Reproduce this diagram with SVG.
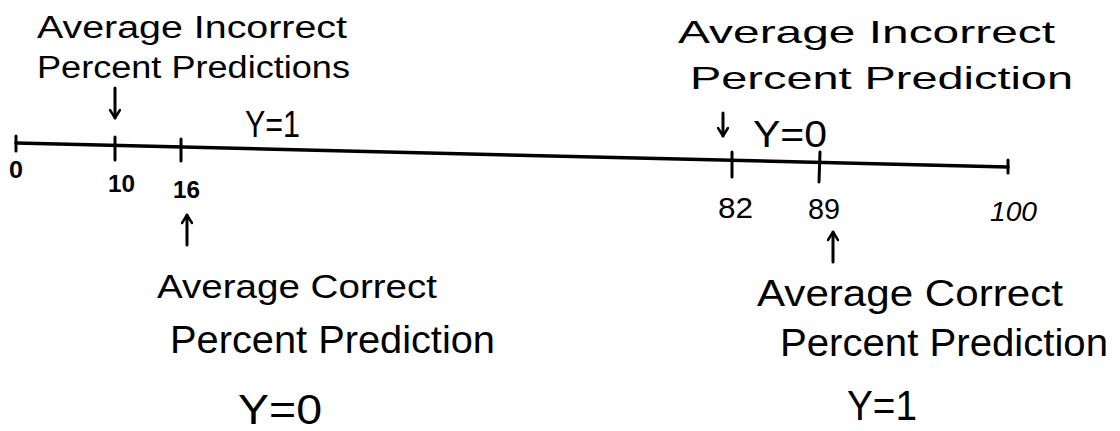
<svg xmlns="http://www.w3.org/2000/svg" width="1120" height="431" viewBox="0 0 1120 431">
<style>
  text { font-family: "Liberation Sans", "DejaVu Sans", sans-serif; fill: #000; }
  .lbl { font-size: 31px; }
  .big { font-size: 42px; }
  .mid { font-size: 36px; }
  .num { font-size: 24px; }
  .bold { font-weight: bold; }
  .axis { stroke: #000; stroke-width: 3.5; fill: none; stroke-linecap: round; }
  .tick { stroke: #000; stroke-width: 3; fill: none; stroke-linecap: round; }
  .arr { stroke: #000; stroke-width: 3; fill: none; stroke-linecap: round; stroke-linejoin: round; }
</style>
<defs>
  <marker id="head" viewBox="0 0 12 12" refX="10" refY="6" markerWidth="12" markerHeight="12" markerUnits="userSpaceOnUse" orient="auto">
    <polyline points="2,1 10,6 2,11" fill="none" stroke="#000" stroke-width="2.5" stroke-linecap="round" stroke-linejoin="round"/>
  </marker>
</defs>
<rect width="1120" height="431" fill="#fff"/>

<g id="axis">
  <line class="axis" x1="16" y1="143" x2="1008" y2="167"/>
  <line class="tick" x1="16" y1="136" x2="16" y2="151"/>
  <line class="tick" x1="115" y1="137" x2="115" y2="160"/>
  <line class="tick" x1="181" y1="139" x2="181" y2="161"/>
  <line class="tick" x1="732" y1="152" x2="732" y2="177"/>
  <line class="tick" x1="820" y1="152" x2="819" y2="182"/>
  <line class="tick" x1="1008" y1="160" x2="1008" y2="173"/>
</g>

<g id="tick-labels">
  <text class="num bold" x="9" y="178" textLength="14" lengthAdjust="spacingAndGlyphs">0</text>
  <text class="num bold" x="108" y="192" textLength="27" lengthAdjust="spacingAndGlyphs">10</text>
  <text class="num bold" x="173" y="198" textLength="27" lengthAdjust="spacingAndGlyphs">16</text>
  <text class="num" x="718" y="218" style="font-size:29px" textLength="35" lengthAdjust="spacingAndGlyphs">82</text>
  <text class="num" x="808" y="219" style="font-size:29px" textLength="32" lengthAdjust="spacingAndGlyphs">89</text>
  <text class="num" x="990" y="221" style="font-size:27px;font-style:italic" textLength="47" lengthAdjust="spacingAndGlyphs">100</text>
</g>

<g id="connectors">
  <line class="arr" x1="115" y1="88" x2="115" y2="118" marker-end="url(#head)"/>
  <line class="arr" x1="723" y1="113" x2="723" y2="136" marker-end="url(#head)"/>
  <line class="arr" x1="187" y1="245" x2="187" y2="215" marker-end="url(#head)"/>
  <line class="arr" x1="833" y1="262" x2="833" y2="232" marker-end="url(#head)"/>
</g>

<g id="incorrect-y1">
  <text class="lbl" x="37" y="38" textLength="310" lengthAdjust="spacingAndGlyphs">Average Incorrect</text>
  <text class="lbl" x="37" y="78" textLength="313" lengthAdjust="spacingAndGlyphs">Percent Predictions</text>
</g>

<g id="label-y1-top">
  <text class="mid" x="245" y="137" textLength="55" lengthAdjust="spacingAndGlyphs">Y=1</text>
</g>

<g id="incorrect-y0">
  <text class="lbl" x="678" y="43" style="font-size:32px" textLength="377" lengthAdjust="spacingAndGlyphs">Average Incorrect</text>
  <text class="lbl" x="690" y="89" style="font-size:32px" textLength="383" lengthAdjust="spacingAndGlyphs">Percent Prediction</text>
</g>

<g id="label-y0-top">
  <text class="mid" x="753" y="147" textLength="74" lengthAdjust="spacingAndGlyphs">Y=0</text>
</g>

<g id="correct-y0">
  <text class="lbl" x="157" y="298" style="font-size:33px" textLength="280" lengthAdjust="spacingAndGlyphs">Average Correct</text>
  <text class="lbl" x="170" y="353" style="font-size:38px" textLength="325" lengthAdjust="spacingAndGlyphs">Percent Prediction</text>
  <text class="big" x="238" y="424" textLength="84" lengthAdjust="spacingAndGlyphs">Y=0</text>
</g>

<g id="correct-y1">
  <text class="lbl" x="757" y="306" style="font-size:36px" textLength="306" lengthAdjust="spacingAndGlyphs">Average Correct</text>
  <text class="lbl" x="780" y="356" style="font-size:38px" textLength="328" lengthAdjust="spacingAndGlyphs">Percent Prediction</text>
  <text class="big" x="847" y="420" textLength="70" lengthAdjust="spacingAndGlyphs">Y=1</text>
</g>
</svg>
